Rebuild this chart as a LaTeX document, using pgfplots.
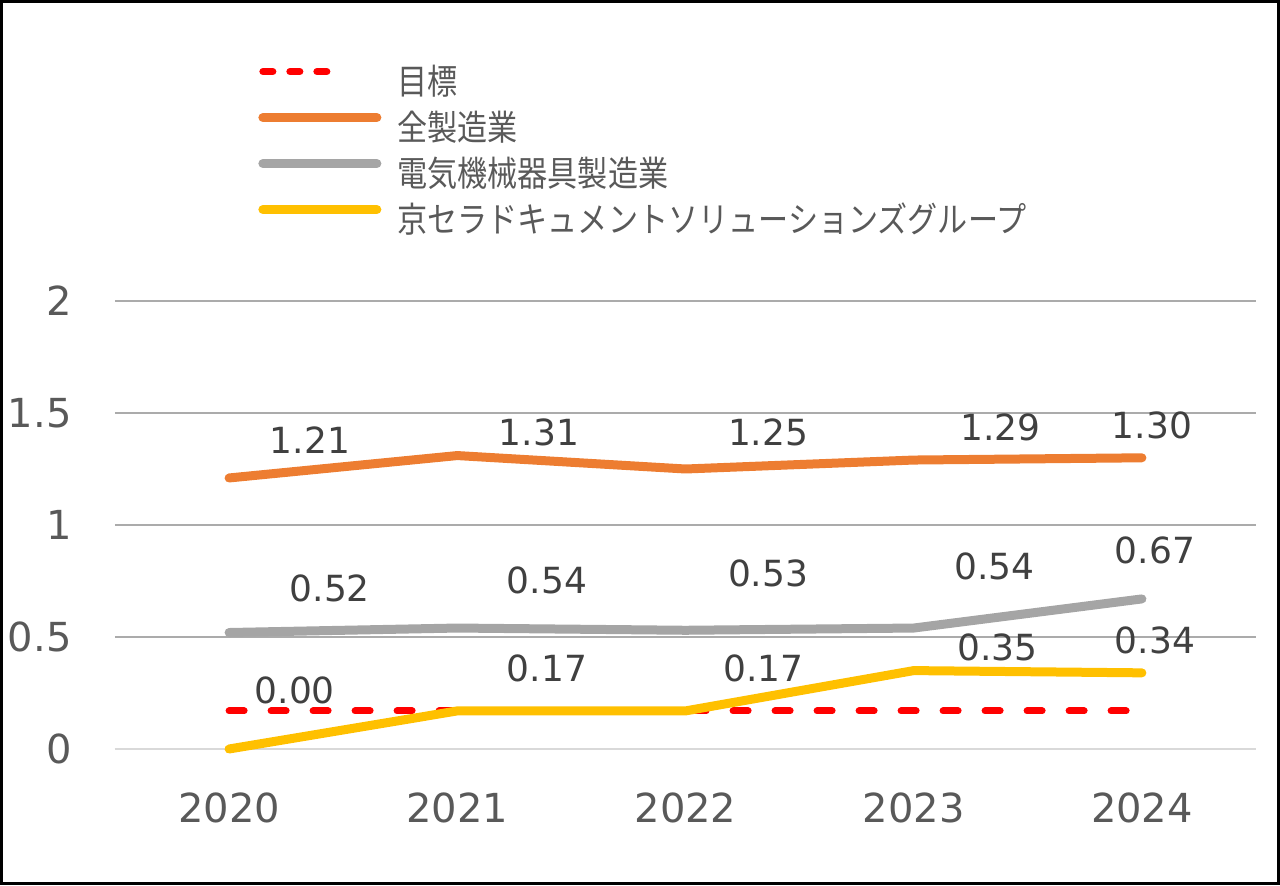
\documentclass[border=0pt]{standalone}
\usepackage{fontspec}
\usepackage{pgfplots}
\pgfplotsset{compat=1.18}
\setmainfont{DejaVu Sans}
\newfontfamily\cjk[FakeStretch=0.86]{Noto Sans CJK JP}
\definecolor{cOrange}{HTML}{ED7D31}
\definecolor{cGray}{HTML}{A5A5A5}
\definecolor{cYellow}{HTML}{FFC000}
\definecolor{cRed}{HTML}{FF0000}
\definecolor{tickc}{HTML}{595959}
\definecolor{labc}{HTML}{404040}
\definecolor{gridc}{HTML}{ABABAB}
\definecolor{zeroc}{HTML}{D9D9D9}
\begin{document}
\begin{tikzpicture}
\path[use as bounding box] (0pt,0pt) rectangle (640pt,442.5pt);
\begin{axis}[
  at={(57.5pt,68pt)}, anchor=south west,
  scale only axis, width=570.5pt, height=224pt,
  xmin=-0.5, xmax=4.5, ymin=0, ymax=2,
  xtick={0,1,2,3,4}, xticklabels={2020,2021,2022,2023,2024},
  ytick={0,0.5,1,1.5,2},
  ymajorgrids, grid style={draw=gridc, line width=1.3pt},
  axis line style={draw=none},
  major tick length=0pt,
  /pgf/number format/assume math mode=true,
  tick label style={font=\fontsize{20}{24}\selectfont, text=tickc, inner sep=0pt},
  yticklabel style={anchor=east, xshift=-21.5pt},
  xticklabel style={anchor=north, yshift=-21.5pt},
  clip=false,
  legend cell align=left,
  legend style={draw=none, fill=none, inner sep=0pt, anchor=north west,
    at={(0.1253,1.5286)}, row sep=4pt, column sep=8pt,
    font=\cjk\fontsize{17.5}{21}\selectfont, text=tickc,
    nodes={inner sep=0pt, text height=15pt, text depth=4pt}},
]
\draw[zeroc, line width=1.3pt] (axis cs:-0.5,0) -- (axis cs:4.5,0);
\addplot[cRed, line width=3.5pt, line cap=round, dash pattern=on 7.5pt off 13.5pt,
  legend image code/.code={\draw[cRed, line width=3.5pt, line cap=round, dash pattern=on 5pt off 8.5pt] (0pt,6pt) -- (32pt,6pt); \path (57pt,6pt);}]
  coordinates {(0,0.17) (1,0.17) (2,0.17) (3,0.17) (4,0.17)};
\addlegendentry{目標}
\addplot[cOrange, line width=4.5pt, line cap=round, line join=round,
  legend image code/.code={\draw[cOrange, line width=4.5pt, line cap=round] (0pt,6pt) -- (57pt,6pt);}]
  coordinates {(0,1.21) (1,1.31) (2,1.25) (3,1.29) (4,1.30)};
\addlegendentry{全製造業}
\addplot[cGray, line width=4.5pt, line cap=round, line join=round,
  legend image code/.code={\draw[cGray, line width=4.5pt, line cap=round] (0pt,6pt) -- (57pt,6pt);}]
  coordinates {(0,0.52) (1,0.54) (2,0.53) (3,0.54) (4,0.67)};
\addlegendentry{電気機械器具製造業}
\addplot[cYellow, line width=4.5pt, line cap=round, line join=round,
  legend image code/.code={\draw[cYellow, line width=4.5pt, line cap=round] (0pt,6pt) -- (57pt,6pt);}]
  coordinates {(0,0.00) (1,0.17) (2,0.17) (3,0.35) (4,0.34)};
\addlegendentry{京セラドキュメントソリューションズグループ}
\begin{scope}[every node/.style={font=\fontsize{18}{22}\selectfont, text=labc, inner sep=0pt}]
\node at (axis cs:0.354,1.379) {1.21};
\node at (axis cs:1.358,1.415) {1.31};
\node at (axis cs:2.362,1.415) {1.25};
\node at (axis cs:3.380,1.4375) {1.29};
\node at (axis cs:4.044,1.446) {1.30};
\node at (axis cs:0.441,0.719) {0.52};
\node at (axis cs:1.393,0.754) {0.54};
\node at (axis cs:2.362,0.786) {0.53};
\node at (axis cs:3.354,0.817) {0.54};
\node at (axis cs:4.057,0.888) {0.67};
\node at (axis cs:0.288,0.263) {0.00};
\node at (axis cs:1.393,0.362) {0.17};
\node at (axis cs:2.341,0.362) {0.17};
\node at (axis cs:3.367,0.455) {0.35};
\node at (axis cs:4.057,0.487) {0.34};
\end{scope}
\end{axis}
\draw[black, line width=1.5pt] (0.75pt,0.75pt) rectangle (639.25pt,441.75pt);
\end{tikzpicture}
\end{document}
